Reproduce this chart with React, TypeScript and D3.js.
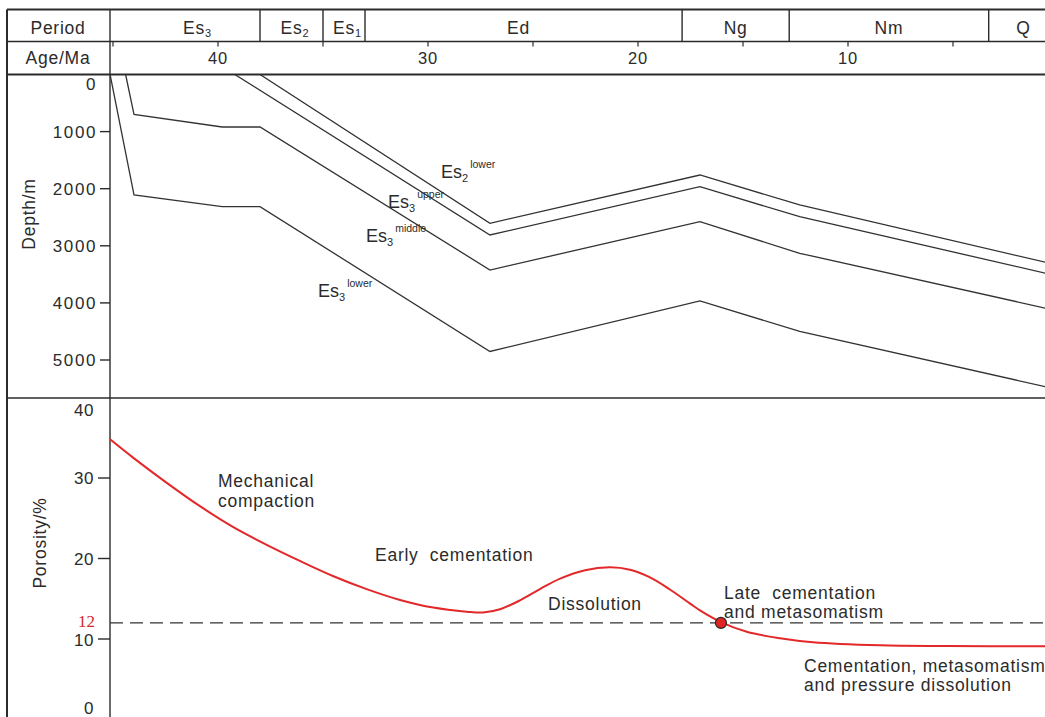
import React from 'react';
import * as d3 from 'd3';

// ---------- data ----------
const periodBase = ['Es', 'Es', 'Es', 'Ed', 'Ng', 'Nm', 'Q'];
const periodSub = ['3', '2', '1', '', '', '', ''];
const periodStartAge = [45.14, 38.0, 35.0, 33.0, 17.9, 12.8, 3.3];
const periodEndAge = [38.0, 35.0, 33.0, 17.9, 12.8, 3.3, 0];

const ageMajorTicks = [40, 30, 20, 10];
const ageMinorTicks = [45, 35, 25, 15, 5];
const depthTicks = [0, 1000, 2000, 3000, 4000, 5000];
const porosityTicks = [0, 10, 20, 30, 40];
const criticalPorosity = 12;

// burial history: [age Ma, depth m]
const es3LowerBase: [number, number][] = [
  [45.14, 0], [44.0, 2110], [39.8, 2315], [38.0, 2315], [27.05, 4850], [17.05, 3965], [12.3, 4500], [0.5, 5475],
];
const es3MiddleBase: [number, number][] = [
  [44.4, 0], [44.0, 697], [39.8, 919], [38.0, 919], [27.05, 3424], [17.05, 2578], [12.3, 3131], [0.5, 4100],
];
const es3UpperBase: [number, number][] = [
  [39.2, 0], [27.05, 2811], [17.05, 1965], [12.3, 2490], [0.5, 3488],
];
const es2LowerBase: [number, number][] = [
  [38.0, 0], [27.05, 2606], [17.05, 1760], [12.3, 2285], [0.5, 3296],
];

// porosity evolution: [age Ma, porosity %]
const porosityCurve: [number, number][] = [
  [45.14, 34.8], [44.03, 32.5], [42.44, 29.4], [40.86, 26.5], [39.27, 23.9], [37.68, 21.7],
  [36.1, 19.7], [34.5, 17.8], [32.92, 16.2], [31.33, 14.85], [29.75, 13.9], [28.16, 13.4],
  [27.37, 13.3], [26.57, 13.7], [25.62, 14.8], [24.67, 16.2], [23.71, 17.5], [22.52, 18.55],
  [21.33, 18.9], [20.38, 18.6], [19.43, 17.65], [18.48, 16.15], [17.52, 14.4], [17.05, 13.55],
  [16.05, 12.1], [14.82, 10.9], [13.24, 10.1], [11.67, 9.6], [8.48, 9.22], [5.3, 9.13], [0.5, 9.1],
];
const criticalPoint: [number, number] = [16.05, 12.0];

// ---------- layout ----------
const W = 1045;
const H = 717;
const frameL = 7;
const frameT = 9.5;
const row1B = 41.5;
const row2B = 74.5;
const axisX = 110;
const panelDiv = 398;

const FONT = "'Liberation Sans', Arial, Helvetica, sans-serif";
const INK = '#2b2b2b';

export default function App() {
  const x = d3.scaleLinear().domain([45, 0]).range([113, 1058]);
  const yD = d3.scaleLinear().domain([0, 5000]).range([row2B, 360]);
  const yP = d3.scaleLinear().domain([0, 40]).range([719.5, 397.5]);

  const burial = d3
    .line<[number, number]>()
    .x((d) => x(d[0]))
    .y((d) => yD(d[1]));
  const poro = d3
    .line<[number, number]>()
    .x((d) => x(d[0]))
    .y((d) => yP(d[1]))
    .curve(d3.curveCatmullRom.alpha(0.5));

  const horizons = [es3LowerBase, es3MiddleBase, es3UpperBase, es2LowerBase];

  const txt = { fontFamily: FONT, fill: INK } as const;

  return (
    <svg
      width={W}
      height={H}
      style={{ position: 'absolute', left: 0, top: 0, background: '#fff' }}
    >
      <defs>
        <clipPath id="depthClip">
          <rect x={axisX} y={row2B} width={W - axisX} height={panelDiv - row2B} />
        </clipPath>
        <clipPath id="poroClip">
          <rect x={axisX} y={panelDiv} width={W - axisX} height={H - panelDiv} />
        </clipPath>
      </defs>

      {/* frame */}
      <g stroke={INK} fill="none">
        <line x1={frameL} x2={W + 20} y1={frameT} y2={frameT} strokeWidth={2} />
        <line x1={frameL} x2={frameL} y1={frameT} y2={H + 10} strokeWidth={2} />
        <line x1={frameL} x2={W + 20} y1={row1B} y2={row1B} strokeWidth={1.4} />
        <line x1={frameL} x2={W + 20} y1={row2B} y2={row2B} strokeWidth={2} />
        <line x1={frameL} x2={W + 20} y1={panelDiv} y2={panelDiv} strokeWidth={1.6} />
        <line x1={axisX} x2={axisX} y1={frameT} y2={H + 10} strokeWidth={1.4} />
        {periodStartAge.slice(1).map((a, i) => (
          <line key={i} x1={x(a)} x2={x(a)} y1={frameT} y2={row1B} strokeWidth={1.4} />
        ))}
        {ageMajorTicks.concat(ageMinorTicks).map((a) => (
          <line key={'t' + a} x1={x(a)} x2={x(a)} y1={row1B} y2={row1B + 5} strokeWidth={1.2} />
        ))}
      </g>

      {/* header texts */}
      <text x={58} y={34} textAnchor="middle" fontSize={17.5} letterSpacing={0.75} {...txt}>
        Period
      </text>
      <text x={58} y={63.5} textAnchor="middle" fontSize={17.5} letterSpacing={0.75} {...txt}>
        Age/Ma
      </text>
      {periodBase.map((name, i) => {
        const x0 = Math.max(axisX, x(periodStartAge[i]));
        const x1 = x(periodEndAge[i]);
        const nudge = (i === 0 ? 9 : 0) + (periodSub[i] ? 3 : 0) + (name === 'Ed' ? -5 : 0);
        return (
          <text
            key={name + i}
            x={(x0 + x1) / 2 + nudge}
            y={34}
            textAnchor="middle"
            fontSize={17.5}
            letterSpacing={0.75}
            {...txt}
          >
            {name}
            {periodSub[i] && (
              <tspan fontSize={11} dy={3} letterSpacing={0}>
                {periodSub[i]}
              </tspan>
            )}
          </text>
        );
      })}
      {ageMajorTicks.map((a) => (
        <text key={'al' + a} x={x(a)} y={63.5} textAnchor="middle" fontSize={16.5} letterSpacing={0.8} {...txt}>
          {a}
        </text>
      ))}

      {/* depth axis */}
      <g>
        {depthTicks.map((d) => (
          <g key={'d' + d}>
            {d > 0 && <line x1={100} x2={axisX} y1={yD(d)} y2={yD(d)} stroke={INK} strokeWidth={1.4} />}
            <text
              x={97}
              y={d === 0 ? 90 : yD(d) + 6}
              textAnchor="end"
              fontSize={17}
              letterSpacing={1.6}
              {...txt}
            >
              {d}
            </text>
          </g>
        ))}
        <text
          transform={`translate(35,214) rotate(-90)`}
          textAnchor="middle"
          fontSize={17.5}
          letterSpacing={0.75}
          {...txt}
        >
          Depth/m
        </text>
      </g>

      {/* burial lines */}
      <g clipPath="url(#depthClip)">
        {horizons.map((h, i) => (
          <path key={i} d={burial(h) || ''} fill="none" stroke="#333" strokeWidth={1.3} />
        ))}
      </g>

      {/* horizon labels */}
      <g {...txt}>
        <text x={441} y={178} fontSize={18}>
          Es<tspan fontSize={11} dy={4}>2</tspan>
          <tspan fontSize={10.5} dx={2} dy={-14}>lower</tspan>
        </text>
        <text x={388} y={208} fontSize={18}>
          Es<tspan fontSize={11} dy={4}>3</tspan>
          <tspan fontSize={10.5} dx={2} dy={-14}>upper</tspan>
        </text>
        <text x={366} y={242} fontSize={18}>
          Es<tspan fontSize={11} dy={4}>3</tspan>
          <tspan fontSize={10.5} dx={2} dy={-14}>middle</tspan>
        </text>
        <text x={318} y={297} fontSize={18}>
          Es<tspan fontSize={11} dy={4}>3</tspan>
          <tspan fontSize={10.5} dx={2} dy={-14}>lower</tspan>
        </text>
      </g>

      {/* porosity axis */}
      <g>
        {porosityTicks.map((p) => (
          <g key={'p' + p}>
            {p > 0 && p < 40 && (
              <line x1={98} x2={axisX} y1={yP(p)} y2={yP(p)} stroke={INK} strokeWidth={1.4} />
            )}
            <text
              x={94}
              y={p === 40 ? 416 : p === 0 ? 714 : yP(p) + (p === 10 ? 7 : 6)}
              textAnchor="end"
              fontSize={17}
              letterSpacing={0.6}
              {...txt}
            >
              {p}
            </text>
          </g>
        ))}
        <text
          x={95}
          y={yP(criticalPorosity) + 4.5}
          textAnchor="end"
          fontSize={17}
          fontFamily="'Liberation Serif', 'Times New Roman', serif"
          fill="#d6262b"
        >
          {criticalPorosity}
        </text>
        <text
          transform={`translate(46,543) rotate(-90)`}
          textAnchor="middle"
          fontSize={17.5}
          letterSpacing={0.75}
          {...txt}
        >
          Porosity/%
        </text>
      </g>

      {/* critical porosity line */}
      <line
        x1={axisX}
        x2={W + 20}
        y1={yP(criticalPorosity)}
        y2={yP(criticalPorosity)}
        stroke="#333"
        strokeWidth={1.3}
        strokeDasharray="13 7"
      />

      {/* porosity curve */}
      <g clipPath="url(#poroClip)">
        <path d={poro(porosityCurve) || ''} fill="none" stroke="#e3282a" strokeWidth={2} />
      </g>
      <circle
        cx={x(criticalPoint[0])}
        cy={yP(criticalPoint[1])}
        r={5.5}
        fill="#e02424"
        stroke="#2a2a2a"
        strokeWidth={1.2}
      />

      {/* process labels */}
      <g fontSize={17.5} letterSpacing={0.75} {...txt}>
        <text x={218} y={487}>Mechanical</text>
        <text x={218} y={507}>compaction</text>
        <text x={375} y={561} style={{ whiteSpace: 'pre' }}>Early  cementation</text>
        <text x={548} y={610}>Dissolution</text>
        <text x={724} y={598.5} style={{ whiteSpace: 'pre' }}>Late  cementation</text>
        <text x={724} y={618}>and metasomatism</text>
        <text x={804} y={672}>Cementation, metasomatism</text>
        <text x={804} y={691}>and pressure dissolution</text>
      </g>
    </svg>
  );
}
